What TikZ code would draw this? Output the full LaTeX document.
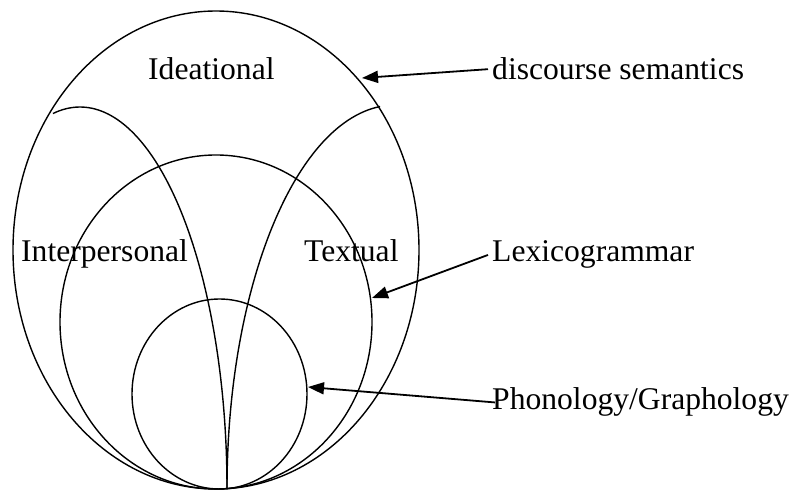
\documentclass[tikz,border=0pt]{standalone}
\usepackage{fontspec}
\setmainfont{Liberation Serif}
\usetikzlibrary{arrows.meta}
\tikzset{
  shapeline/.style={line width=1.4pt, black},
  lbl/.style={inner sep=0pt, anchor=base west, font=\fontsize{31.6pt}{38pt}\selectfont},
  arr/.style={line width=1.8pt, -{Triangle[length=16pt,width=12pt]}}
}
\begin{document}
\begin{tikzpicture}[x=1pt,y=1pt]
\useasboundingbox (0,0) rectangle (796,490);
% outer ellipse (discourse semantics)
\draw[shapeline] (216,240) ellipse [x radius=203, y radius=239];
% middle ellipse (lexicogrammar)
\draw[shapeline] (216,168) ellipse [x radius=156, y radius=167];
% small ellipse (phonology/graphology)
\draw[shapeline] (219.5,96) ellipse [x radius=87.5, y radius=95];
% dividing arcs
\coordinate (bot) at (227,1);
\draw[shapeline] (bot) arc [start angle=0, end angle=100.6, x radius=147, y radius=382];
\draw[shapeline] (bot) arc [start angle=180, end angle=95.1, x radius=168, y radius=384];
% labels
\node[lbl] (ideational) at (148,410) {Ideational};
\node[lbl] (interpersonal) at (21,228) {Interpersonal};
\node[lbl] (textual) at (304,228) {Textual};
\node[lbl] (ds) at (492,410) {discourse semantics};
\node[lbl] (lex) at (492,228) {Lexicogrammar};
\node[lbl] (phon) at (492,80) {Phonology/Graphology};
% arrow targets
\coordinate (t1) at (362,412);
\coordinate (t2) at (372,192);
\coordinate (t3) at (308,103);
\draw[arr] ([xshift=-4pt]ds.west) -- (t1);
\draw[arr] ([xshift=-4pt]lex.west) -- (t2);
\draw[arr] ([xshift=3pt]phon.west) -- (t3);
\end{tikzpicture}
\end{document}
